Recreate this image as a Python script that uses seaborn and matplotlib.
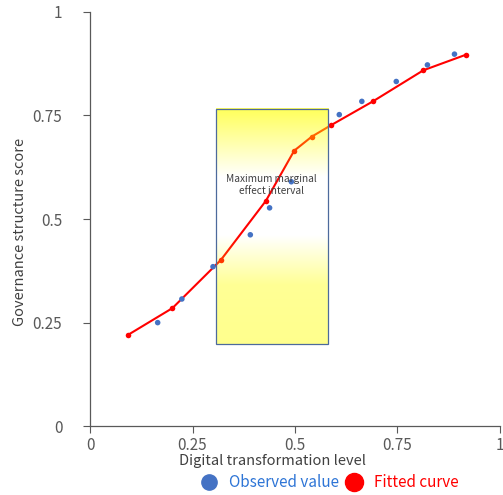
import matplotlib
matplotlib.use("Agg")
import matplotlib.pyplot as plt
import numpy as np
import pandas as pd
import seaborn as sns
from matplotlib.lines import Line2D
from matplotlib.patches import Rectangle

# observed values
obs_x = [0.165, 0.224, 0.300, 0.391, 0.438, 0.491, 0.608, 0.663, 0.747, 0.823, 0.889]
obs_y = [0.250, 0.307, 0.385, 0.462, 0.527, 0.590, 0.752, 0.784, 0.832, 0.872, 0.898]

# fitted curve
fit_x = [0.092, 0.201, 0.319, 0.429, 0.498, 0.541, 0.587, 0.690, 0.813, 0.918]
fit_y = [0.220, 0.285, 0.401, 0.544, 0.665, 0.699, 0.726, 0.784, 0.859, 0.897]

# maximum marginal effect interval (x0, x1, y0, y1)
box = [0.307, 0.581, 0.198, 0.766]
ticks = [0, 0.25, 0.5, 0.75, 1]
tick_labels = ["0", "0.25", "0.5", "0.75", "1"]

sns.set_style("white")
plt.rcParams['font.family'] = ['Noto Sans CJK SC', 'DejaVu Sans']

fig = plt.figure(figsize=(5.03, 4.95), dpi=100)
ax = fig.add_axes([0.179, 0.139, 0.815, 0.837])

obs = pd.DataFrame({"x": obs_x, "y": obs_y})
fit = pd.DataFrame({"x": fit_x, "y": fit_y})

sns.lineplot(data=fit, x="x", y="y", ax=ax, color="#ff0000", lw=1.5,
             marker="o", markersize=4, markeredgewidth=0, zorder=2,
             sort=False)

# gradient box: yellow top and bottom, white middle
yy = np.linspace(box[3], box[2], 200)
alpha = np.interp(yy, [box[2], 0.34, 0.46, 0.60, box[3]], [0.45, 0.42, 0.0, 0.0, 0.65])
img = np.zeros((200, 1, 4))
img[:, 0, 0] = 1.0
img[:, 0, 1] = 1.0
img[:, 0, 2] = 0.0
img[:, 0, 3] = alpha
ax.imshow(img, extent=box, aspect="auto", zorder=3, interpolation="bilinear")
ax.add_patch(Rectangle((box[0], box[2]), box[1] - box[0], box[3] - box[2],
                       fill=False, edgecolor="#4d6a9c", lw=0.9, zorder=4))

sns.scatterplot(data=obs, x="x", y="y", ax=ax, color="#4472c4", s=16,
                edgecolor="none", zorder=5)

ax.text(0.443, 0.582, "Maximum marginal\neffect interval", ha="center",
        va="center", fontsize=7.3, color="#404040", zorder=6,
        linespacing=1.3)

ax.set_xlim(0, 1)
ax.set_ylim(0, 1)
ax.set_xticks(ticks)
ax.set_xticklabels(tick_labels)
ax.set_yticks(ticks)
ax.set_yticklabels(tick_labels)
ax.tick_params(axis="both", direction="out", length=5, width=0.8,
               colors="#595959", labelsize=11, bottom=True, left=True)
ax.tick_params(axis="y", pad=15)
ax.tick_params(axis="x", pad=3)
for s in ["top", "right"]:
    ax.spines[s].set_visible(False)
for s in ["left", "bottom"]:
    ax.spines[s].set_color("#595959")
    ax.spines[s].set_linewidth(0.9)

ax.set_xlabel("Digital transformation level", fontsize=10.5, color="#404040")
ax.set_ylabel("Governance structure score", fontsize=10.5, color="#404040")
ax.xaxis.set_label_coords(0.444, -0.068)
ax.yaxis.set_label_coords(-0.153, 0.47)

handles = [
    Line2D([], [], ls="none", marker="o", markersize=11, color="#4472c4"),
    Line2D([], [], ls="none", marker="o", markersize=13, color="#ff0000"),
]
fig.legend(handles, ["Observed value", "Fitted curve"], loc="center",
           bbox_to_anchor=(0.655, 0.025), ncol=2, frameon=False,
           fontsize=11, labelcolor=["#2e75d6", "#ff0000"],
           handletextpad=0.7, columnspacing=0.4, handlelength=1.2)

fig.savefig("out.png", dpi=100)
